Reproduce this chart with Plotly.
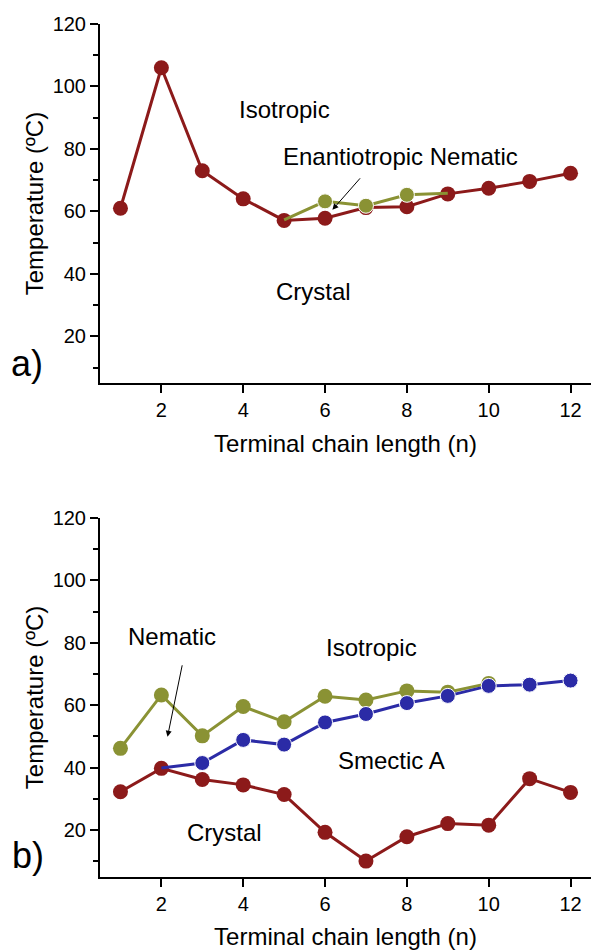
import plotly.graph_objects as go

# ---------------- data ----------------
n_all = [1, 2, 3, 4, 5, 6, 7, 8, 9, 10, 11, 12]

# panel a
a_cryst = [61, 106, 73, 64, 57.1, 57.8, 61.2, 61.5, 65.6, 67.4, 69.6, 72.2]
a_nem_n = [5, 6, 7, 8, 9]
a_nem = [57.3, 63.2, 61.8, 65.3, 65.8]

# panel b
b_cryst = [32.3, 39.8, 36.2, 34.5, 31.4, 19.3, 10.1, 17.9, 22.1, 21.6, 36.5, 32.1]
b_iso_n = [1, 2, 3, 4, 5, 6, 7, 8, 9, 10]
b_iso = [46.2, 63.3, 50.2, 59.6, 54.7, 62.9, 61.7, 64.6, 64.2, 67.0]
b_sma_n = [2, 3, 4, 5, 6, 7, 8, 9, 10, 11, 12]
b_sma = [39.9, 41.5, 48.9, 47.4, 54.5, 57.2, 60.7, 63.0, 66.2, 66.6, 67.9]

x_ticks = [2, 4, 6, 8, 10, 12]
y_ticks = [20, 40, 60, 80, 100, 120]

RED = "#8C1A1A"
OLIVE = "#8A9234"
BLUE = "#2B2BA6"
FONT = "Liberation Sans"
MS = 15
LW = 3

fig = go.Figure()

def line(x, y, color, xa, ya, sizes=None):
    fig.add_trace(go.Scatter(
        x=x, y=y, mode="lines+markers", xaxis=xa, yaxis=ya,
        line=dict(color=color, width=LW),
        marker=dict(color=color, size=sizes if sizes is not None else MS, opacity=1),
        showlegend=False, hoverinfo="skip"))

# panel a (top)
line(n_all, a_cryst, RED, "x", "y")
line(a_nem_n, a_nem, OLIVE, "x", "y", [0] + [MS] * (len(a_nem) - 2) + [0])
# panel b (bottom)
line(n_all, b_cryst, RED, "x2", "y2")
line(b_iso_n, b_iso, OLIVE, "x2", "y2")
line(b_sma_n, b_sma, BLUE, "x2", "y2", [0] + [MS] * (len(b_sma) - 1))

tickfont = dict(family=FONT, size=20, color="black")
titlefont = dict(family=FONT, size=24, color="black")

def xax(anchor):
    return dict(range=[0.5, 12.5], tickvals=x_ticks, ticks="outside", ticklen=8,
                tickwidth=2, tickcolor="black", showline=True, linewidth=2,
                linecolor="black", showgrid=False, zeroline=False,
                tickfont=tickfont, anchor=anchor, ticklabelstandoff=0,
                title=dict(text="Terminal chain length (n)", font=titlefont, standoff=15))

def yax(domain, anchor):
    return dict(range=[5, 120], tickvals=y_ticks, ticks="outside", ticklen=8,
                tickwidth=2, tickcolor="black", showline=True, linewidth=2,
                linecolor="black", showgrid=False, zeroline=False,
                tickfont=tickfont, domain=domain, anchor=anchor,
                minor=dict(ticks="outside", ticklen=5, tickwidth=2,
                           tickcolor="black", dtick=10, tick0=0, showgrid=False),
                title=dict(text="Temperature (ºC)", font=titlefont, standoff=2))

fig.update_layout(
    width=591, height=950,
    margin=dict(l=100, r=0, t=24, b=73),
    paper_bgcolor="white", plot_bgcolor="white",
    font=dict(family=FONT, color="black"),
    xaxis=xax("y"),
    yaxis=yax([0.579, 1.0], "x"),
    xaxis2=xax("y2"),
    yaxis2=yax([0.0, 0.421], "x2"),
)

lab = dict(family=FONT, size=24, color="black")
texts = [
    ("x", "y", 5.0, 92.5, "Isotropic"),
    ("x", "y", 7.85, 77.5, "Enantiotropic Nematic"),
    ("x", "y", 5.72, 34.2, "Crystal"),
    ("x2", "y2", 2.26, 81.9, "Nematic"),
    ("x2", "y2", 7.14, 78.4, "Isotropic"),
    ("x2", "y2", 7.63, 42.2, "Smectic A"),
    ("x2", "y2", 3.54, 19.4, "Crystal"),
]
for xr, yr, x, y, t in texts:
    fig.add_annotation(xref=xr, yref=yr, x=x, y=y, text=t, showarrow=False,
                       font=lab, xanchor="center", yanchor="middle")

# arrows
fig.add_annotation(xref="x", yref="y", x=6.18, y=60.5, text="", showarrow=True,
                   ax=29, ay=-33, arrowhead=2, arrowsize=1.2, arrowwidth=1,
                   arrowcolor="black")
fig.add_annotation(xref="x2", yref="y2", x=2.15, y=49.9, text="", showarrow=True,
                   ax=15, ay=-73, arrowhead=2, arrowsize=1.2, arrowwidth=1,
                   arrowcolor="black")

# panel labels
panel_font = dict(family=FONT, size=36, color="black")
fig.add_annotation(xref="paper", yref="paper", x=(27 - 100) / 491, y=(877 - 363) / 853,
                   text="a)", showarrow=False, font=panel_font,
                   xanchor="center", yanchor="middle")
fig.add_annotation(xref="paper", yref="paper", x=(28 - 100) / 491, y=(877 - 855) / 853,
                   text="b)", showarrow=False, font=panel_font,
                   xanchor="center", yanchor="middle")

fig.write_html("out.html")
